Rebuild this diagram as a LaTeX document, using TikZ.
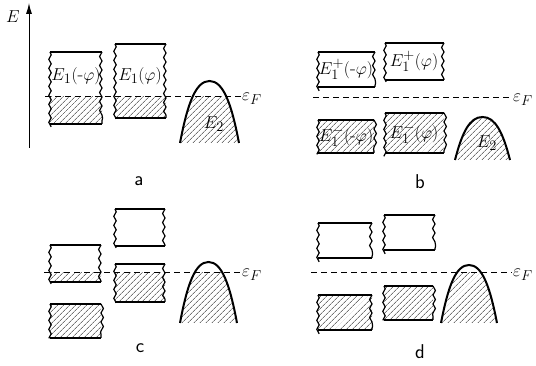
\documentclass[tikz,border=0pt]{standalone}
\usepackage{tikz}
\usetikzlibrary{arrows.meta,decorations.pathmorphing,patterns.meta}

% band with wavy sides: left, top, right, bottom, upper edge of the hatching
\newcommand{\energyband}[5]{%
  \fill[hatch] (#1,#5) rectangle (#3,#4);
  \draw[bandedge] (#1,#2) -- (#3,#2) (#1,#4) -- (#3,#4);
  \draw[bandside] (#1,#2) -- (#1,#4) (#3,#2) -- (#3,#4);
}
% hole band E2: left, right, base, top, Fermi level
\newcommand{\holeband}[5]{%
  \pgfmathsetmacro{\xa}{#1+0.13*(#2-#1)}
  \pgfmathsetmacro{\xb}{#1+0.27*(#2-#1)}
  \pgfmathsetmacro{\xm}{#1+0.5*(#2-#1)}
  \pgfmathsetmacro{\xc}{#2-0.27*(#2-#1)}
  \pgfmathsetmacro{\xd}{#2-0.13*(#2-#1)}
  \pgfmathsetmacro{\ya}{#4+0.35*(#3-#4)}
  \begin{scope}
    \clip (#1,#3) .. controls (\xa,\ya) and (\xb,#4) .. (\xm,#4)
          .. controls (\xc,#4) and (\xd,\ya) .. (#2,#3) -- cycle;
    \fill[hatch] (#1,#5) rectangle (#2,#3);
  \end{scope}
  \draw[dome] (#1,#3) .. controls (\xa,\ya) and (\xb,#4) .. (\xm,#4)
        .. controls (\xc,#4) and (\xd,\ya) .. (#2,#3);
}

\begin{document}
\begin{tikzpicture}[
  x=1pt, y=-1pt,
  >=Latex,
  hatch/.style={pattern={Lines[angle=45,distance=4pt,line width=0.6pt]}, pattern color=black!85},
  bandedge/.style={line width=2pt},
  bandside/.style={line width=1.2pt, decorate, decoration={snake, segment length=9pt, amplitude=1.2pt}},
  dome/.style={line width=2pt},
  fermi/.style={line width=1pt, dash pattern=on 6pt off 4pt},
  lbl/.style={inner sep=0pt, font=\fontsize{19}{21}\selectfont},
  ef/.style={anchor=west, inner sep=1pt, font=\fontsize{19}{21}\selectfont},
  panel/.style={font=\fontsize{20}{22}\selectfont\sffamily}
]
\useasboundingbox (0,0) rectangle (536,366);

% axis
\coordinate (axbot) at (29,148);
\coordinate (axtop) at (29,3);
\draw[-{Latex[length=11pt,width=6pt]}, line width=1pt] (axbot) -- (axtop);
\node[lbl] (elab) at (13,17) {$E$};

% a
\energyband{50}{52}{102}{124}{97}
\energyband{115}{44}{166}{118}{97}
\holeband{180}{239}{143}{81}{97}
\coordinate (fa) at (45,97);
\node[ef] (efa) at (241,99) {$\varepsilon_F$};
\draw[fermi] (fa) -- (fa -| efa.west);
\node[lbl] (e1ma) at (76,76) {$E_1(\mbox{-}\varphi)$};
\node[lbl] (e1pa) at (140,76) {$E_1(\varphi)$};
\node[lbl] (e2a) at (214,124) {$E_2$};
\node[panel] (pa) at (139,181) {a};

% b
\energyband{318}{52}{375}{87}{87}
\energyband{385}{43}{444}{80}{80}
\energyband{318}{120}{374}{153}{120}
\energyband{385}{113}{444}{153}{113}
\holeband{455}{510}{160}{117}{98}
\coordinate (fb) at (313,98);
\node[ef] (efb) at (512,100) {$\varepsilon_F$};
\draw[fermi] (fb) -- (fb -| efb.west);
\node[lbl] (e1pmb) at (346,69) {$E_1^+(\mbox{-}\varphi)$};
\node[lbl] (e1ppb) at (414,61) {$E_1^+(\varphi)$};
\node[lbl] (e1mmb) at (346,136) {$E_1^-(\mbox{-}\varphi)$};
\node[lbl] (e1mpb) at (414,133) {$E_1^-(\varphi)$};
\node[lbl] (e2b) at (487,143) {$E_2$};
\node[panel] (pb) at (420,182) {b};

% c
\energyband{50}{245}{101}{282}{273}
\energyband{50}{304}{101}{338}{304}
\energyband{115}{209}{165}{246}{246}
\energyband{115}{264}{165}{302}{273}
\holeband{180}{237}{323}{262}{273}
\coordinate (fc) at (44,273);
\node[ef] (efc) at (241,275) {$\varepsilon_F$};
\draw[fermi] (fc) -- (fc -| efc.west);
\node[panel] (pc) at (140,348) {c};

% d
\energyband{318}{223}{372}{258}{258}
\energyband{384}{215}{435}{250}{250}
\energyband{318}{295}{372}{330}{295}
\energyband{384}{286}{433}{320}{286}
\holeband{441}{497}{323}{265}{273}
\coordinate (fd) at (311,273);
\node[ef] (efd) at (512,275) {$\varepsilon_F$};
\draw[fermi] (fd) -- (fd -| efd.west);
\node[panel] (pd) at (420,352) {d};
\end{tikzpicture}
\end{document}
